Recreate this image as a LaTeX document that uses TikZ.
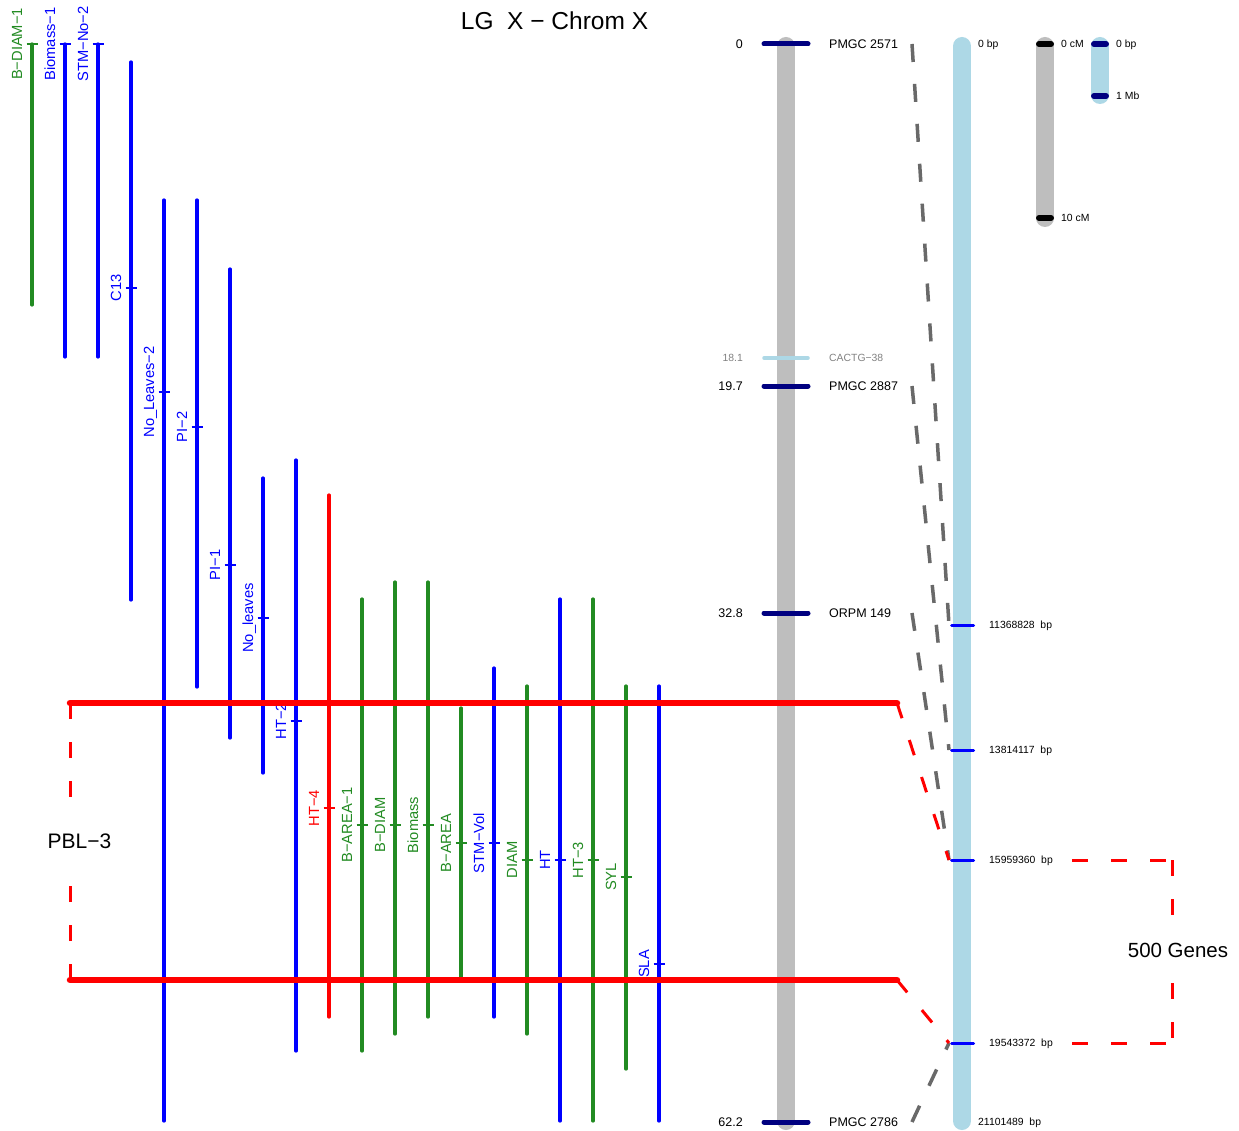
\documentclass[tikz,border=0pt]{standalone}
\usepackage{fontspec}
\setmainfont{Liberation Sans}
\definecolor{qblue}{RGB}{0,0,255}
\definecolor{qgreen}{RGB}{34,139,34}
\definecolor{qred}{RGB}{255,0,0}
\definecolor{chrgray}{RGB}{190,190,190}
\definecolor{chrblue}{RGB}{173,216,230}
\definecolor{mnavy}{RGB}{0,0,128}
\definecolor{dgray}{RGB}{105,105,105}
\definecolor{lgtext}{RGB}{130,130,130}
\tikzset{
 qtlline/.style={line width=3.2pt, line cap=round},
 qtltick/.style={line width=1.8pt},
 qtllabel/.style={rotate=90, anchor=base, inner sep=0pt, font=\fontsize{14.7}{17}\selectfont},
 chrom/.style={line width=18pt, line cap=round},
 mtick/.style={line width=5pt, line cap=round, draw=mnavy},
 ptick/.style={line width=3pt, line cap=round, draw=qblue},
 mlabel/.style={inner sep=0pt, font=\fontsize{12.5}{15}\selectfont},
 slabel/.style={inner sep=0pt, font=\fontsize{10.4}{12}\selectfont},
 pblbar/.style={line width=6.5pt, line cap=round, draw=qred},
 reddash/.style={line width=3pt, draw=qred, dash pattern=on 16pt off 23pt},
 graydash/.style={line width=3.5pt, draw=dgray, dash pattern=on 18pt off 22pt},
 sctick/.style={line width=6pt, line cap=round},
}
\newcommand\qtlbar[7]{%
 \draw[qtlline, draw=#6] (#2,#3) -- (#2,#4);
 \draw[qtltick, draw=#6] (#2-5.5,#5) -- (#2+5.5,#5);
 \node[qtllabel, text=#6] (#1) at (#2-10,#5) {#7};
}
\begin{document}
\begin{tikzpicture}[x=1pt, y=-1pt]
\useasboundingbox (0,0) rectangle (1239,1131);
\fill[white] (0,0) rectangle (1239,1131);

% title
\node[inner sep=0pt, font=\fontsize{24.5}{28}\selectfont, anchor=base] (title) at (554.5,30) {LG\ \ X − Chrom X};

% chromosomes
\draw[chrom, draw=chrgray] (786,46) -- (786,1121);
\draw[chrom, draw=chrblue] (962,46) -- (962,1121);

% genetic markers
\draw[mtick] (764,44) -- (808,44);
\draw[line width=3.5pt, line cap=round, draw=chrblue] (764,358) -- (808,358);
\draw[mtick] (764,386) -- (808,386);
\draw[mtick] (764,613) -- (808,613);
\draw[mtick] (764,1122) -- (808,1122);

\node[mlabel, anchor=base east] (c1) at (743,48.5) {0};
\node[mlabel, anchor=base west] (mk1) at (829,48.5) {PMGC 2571};
\node[slabel, text=lgtext, anchor=base east] (c0) at (743,361.8) {18.1};
\node[slabel, text=lgtext, anchor=base west] (mk0) at (829,361.8) {CACTG−38};
\node[mlabel, anchor=base east] (c2) at (743,390.5) {19.7};
\node[mlabel, anchor=base west] (mk2) at (829,390.5) {PMGC 2887};
\node[mlabel, anchor=base east] (c3) at (743,617.5) {32.8};
\node[mlabel, anchor=base west] (mk3) at (829,617.5) {ORPM 149};
\node[mlabel, anchor=base east] (c4) at (743,1126.5) {62.2};
\node[mlabel, anchor=base west] (mk4) at (829,1126.5) {PMGC 2786};

% physical positions
\draw[ptick] (951.5,625) -- (973.5,625);
\draw[ptick] (951.5,750) -- (973.5,750);
\draw[ptick] (951.5,860) -- (973.5,860);
\draw[ptick] (951.5,1043) -- (973.5,1043);
\node[slabel, anchor=base west] (b0) at (978,47.6) {0 bp};
\node[slabel, anchor=base west] (b1) at (989,628.6) {11368828~~bp};
\node[slabel, anchor=base west] (b2) at (989,753.6) {13814117~~bp};
\node[slabel, anchor=base west] (b3) at (989,863.6) {15959360~~bp};
\node[slabel, anchor=base west] (b4) at (989,1046.6) {19543372~~bp};
\node[slabel, anchor=base west] (b5) at (978,1125.6) {21101489~~bp};

% scale bars
\draw[chrom, draw=chrgray] (1045,46) -- (1045,218);
\draw[sctick, draw=black] (1039,44) -- (1051,44);
\draw[sctick, draw=black] (1039,218) -- (1051,218);
\draw[chrom, draw=chrblue] (1100,46) -- (1100,95);
\draw[sctick, draw=mnavy] (1094,44) -- (1106,44);
\draw[sctick, draw=mnavy] (1094,96) -- (1106,96);
\node[slabel, anchor=base west] (s1) at (1061,47.6) {0 cM};
\node[slabel, anchor=base west] (s2) at (1061,221.6) {10 cM};
\node[slabel, anchor=base west] (s3) at (1116,47.6) {0 bp};
\node[slabel, anchor=base west] (s4) at (1116,99.6) {1 Mb};

% QTLs
\qtlbar{q1}{32}{44}{305}{44}{qgreen}{B−DIAM−1}
\qtlbar{q2}{65}{44}{357}{44}{qblue}{Biomass−1}
\qtlbar{q3}{98}{44}{357}{44}{qblue}{STM−No−2}
\qtlbar{q4}{131}{62}{600}{288}{qblue}{C13}
\qtlbar{q5}{164}{200}{1121}{392}{qblue}{No\_Leaves−2}
\qtlbar{q6}{197}{200}{687}{427}{qblue}{PI−2}
\qtlbar{q7}{230}{269}{738}{565}{qblue}{PI−1}
\qtlbar{q8}{263}{478}{773}{618}{qblue}{No\_leaves}
\qtlbar{q9}{296}{460}{1051}{721}{qblue}{HT−2}
\qtlbar{q10}{329}{495}{1017}{808}{qred}{HT−4}
\qtlbar{q11}{362}{599}{1051}{825}{qgreen}{B−AREA−1}
\qtlbar{q12}{395}{582}{1034}{825}{qgreen}{B−DIAM}
\qtlbar{q13}{428}{582}{1017}{825}{qgreen}{Biomass}
\qtlbar{q14}{461}{708}{978}{843}{qgreen}{B−AREA}
\qtlbar{q15}{494}{668}{1017}{843}{qblue}{STM−Vol}
\qtlbar{q16}{527}{686}{1034}{860}{qgreen}{DIAM}
\qtlbar{q17}{560}{599}{1121}{860}{qblue}{HT}
\qtlbar{q18}{593}{599}{1121}{860}{qgreen}{HT−3}
\qtlbar{q19}{626}{686}{1069}{877}{qgreen}{SYL}
\qtlbar{q20}{659}{686}{1121}{964}{qblue}{SLA}

% PBL-3 interval
\coordinate (bl1) at (70,703);
\coordinate (br1) at (897,703);
\coordinate (bl2) at (70,980);
\coordinate (br2) at (897,980);
\draw[pblbar] (bl1) -- (br1);
\draw[pblbar] (bl2) -- (br2);
\draw[reddash] (bl1) -- (70,806);
\draw[reddash] (bl2) -- (70,874);
\node[inner sep=0pt, font=\fontsize{21}{25}\selectfont, anchor=base] (pbl) at (79.5,848) {PBL−3};

% connectors
\coordinate (g1) at (912,44);
\coordinate (g2) at (912,386);
\coordinate (g3) at (912,613);
\coordinate (g4) at (912,1122);
\coordinate (p1) at (949,625);
\coordinate (p2) at (949,750);
\coordinate (p3) at (949,860);
\coordinate (p4) at (949,1043);
\draw[graydash] (g1) -- (p1);
\draw[graydash] (g2) -- (p2);
\draw[graydash] (g3) -- (p3);
\draw[graydash] (g4) -- (p4);
\draw[reddash] (br1) -- (p3);
\draw[reddash] (br2) -- (p4);

% 500 genes bracket
\coordinate (rb1) at (1072,860);
\coordinate (rc1) at (1172,860);
\coordinate (rb2) at (1072,1043);
\coordinate (rc2) at (1172,1043);
\draw[reddash] (rb1) -- (rc1);
\draw[reddash] (rc1) -- (1172,925);
\draw[reddash] (rb2) -- (rc2);
\draw[reddash] (1172,983) -- (rc2);
\node[inner sep=0pt, font=\fontsize{20.5}{24}\selectfont, anchor=base] (genes) at (1178,957) {500 Genes};
\end{tikzpicture}
\end{document}
